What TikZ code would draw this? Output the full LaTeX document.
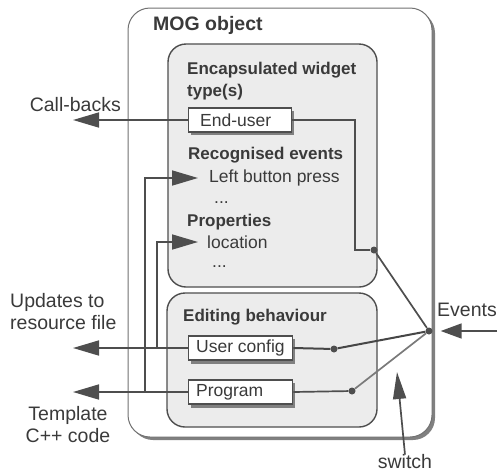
\documentclass[tikz,border=0pt]{standalone}
\usepackage{fontspec}
\setmainfont{Liberation Sans}
\usetikzlibrary{arrows.meta}
\definecolor{txt}{HTML}{3A3A3A}
\definecolor{ln}{HTML}{4E4E4E}
\definecolor{boxfill}{HTML}{ECECEC}
\definecolor{shadow}{HTML}{808080}
\begin{document}
\begin{tikzpicture}[x=1pt,y=-1pt,
  lbl/.style={text=txt,font=\fontsize{17.5pt}{21pt}\selectfont,inner sep=0pt,anchor=west},
  bold/.style={text=txt,font=\fontsize{17pt}{22pt}\selectfont\bfseries,inner sep=0pt,anchor=west},
  outer/.style={text=txt,font=\fontsize{19.5pt}{22pt}\selectfont,inner sep=0pt},
  conn/.style={draw=ln,line width=1.7pt},
  bigarrow/.style={conn,-{Triangle[length=26pt,width=15pt]}},
  dot/.style={circle,fill=ln,minimum size=7pt,inner sep=0pt},
  itembox/.style={draw=ln,line width=1.3pt,fill=white,minimum width=103pt,minimum height=24pt,inner sep=0pt},
  itemtext/.style={text=txt,font=\fontsize{17.5pt}{21pt}\selectfont,inner sep=0pt,anchor=west}
]
\useasboundingbox (0,0) rectangle (498,472);
% outer MOG box with shadow
\fill[shadow,rounded corners=22pt] (131,11) rectangle (435,440);
\draw[draw=ln!80,line width=1pt,fill=white,rounded corners=22pt] (128,8) rectangle (432,437);
% inner boxes
\draw[draw=ln,line width=1.4pt,fill=boxfill,rounded corners=18pt] (168,44) rectangle (377,287);
\draw[draw=ln,line width=1.4pt,fill=boxfill,rounded corners=18pt] (167,293) rectangle (377,427);

\node[bold,font=\fontsize{19.5pt}{22pt}\selectfont\bfseries] (mog) at (153,25) {MOG object};
\node[bold,align=left] (enc) at (187,81) {Encapsulated widget\\type(s)};
\node[bold] (rec) at (188,155) {Recognised events};
\node[lbl] (lbp) at (209,178) {Left button press};
\node[lbl] (dots1) at (214,203) {...};
\node[bold] (prop) at (187,222) {Properties};
\node[lbl] (loc) at (207,242) {location};
\node[lbl] (dots2) at (212,267) {...};
\node[bold] (edit) at (183,317) {Editing behaviour};

% item boxes with shadow
\fill[shadow] (191,111) rectangle (294,135);
\node[itembox,anchor=west] (eu) at (188,120) {};
\node[itemtext] at (200,120) {End-user};
\fill[shadow] (191,339) rectangle (295,364);
\node[itembox,anchor=west,minimum width=104pt] (uc) at (188,348) {};
\node[itemtext] at (196,348) {User config};
\fill[shadow] (191,383) rectangle (295,408);
\node[itembox,anchor=west,minimum width=104pt] (pg) at (188,392) {};
\node[itemtext] at (196,392) {Program};

% dots and junctions
\node[dot] (ev) at (429,331) {};
\node[dot] (d1) at (374,250) {};
\node[dot] (d2) at (334,349) {};
\node[dot] (d3) at (352,391) {};
\coordinate (c1) at (355,250);
\coordinate (cb) at (73,120);
\coordinate (up) at (73,348);
\coordinate (tp) at (73,392);
\coordinate (j1) at (145,392);
\coordinate (j2) at (157,348);
\coordinate (a1) at (198,178);
\coordinate (a2) at (198,242);
\coordinate (evin) at (497,331);
\coordinate (swtip) at (397,372);

% outer labels
\node[outer,anchor=east] (cbl) at (121,105) {Call-backs};
\node[outer,anchor=west,align=left] (upl) at (10,312) {Updates to\\resource file};
\node[outer,align=center] (tpl) at (68,425) {Template\\C++ code};
\node[outer,anchor=west] (evl) at (437,310) {Events};
\node[outer] (sw) at (405,462) {switch};

% connectors
\draw[conn] (eu.east) -| (c1) -- (d1);
\draw[conn] (d1) -- (ev);
\draw[conn,line width=2pt,draw=ln!90!black] (uc.east) -- (d2) -- (ev);
\draw[conn] (pg.east) -- (d3);
\draw[conn,draw=ln!75] (d3) -- (ev);
\draw[bigarrow] (eu.west) -- (cb);
\draw[bigarrow] (uc.west) -- (up);
\draw[bigarrow] (pg.west) -- (tp);
\draw[bigarrow] (j1) |- (a1);
\draw[bigarrow] (j2) |- (a2);
\draw[conn,-{Triangle[length=21pt,width=15pt]},shorten >=8pt] (evin) -- (ev);
\draw[conn,-{Triangle[length=27pt,width=13pt]}] (sw.north) -- (swtip);
\end{tikzpicture}
\end{document}
